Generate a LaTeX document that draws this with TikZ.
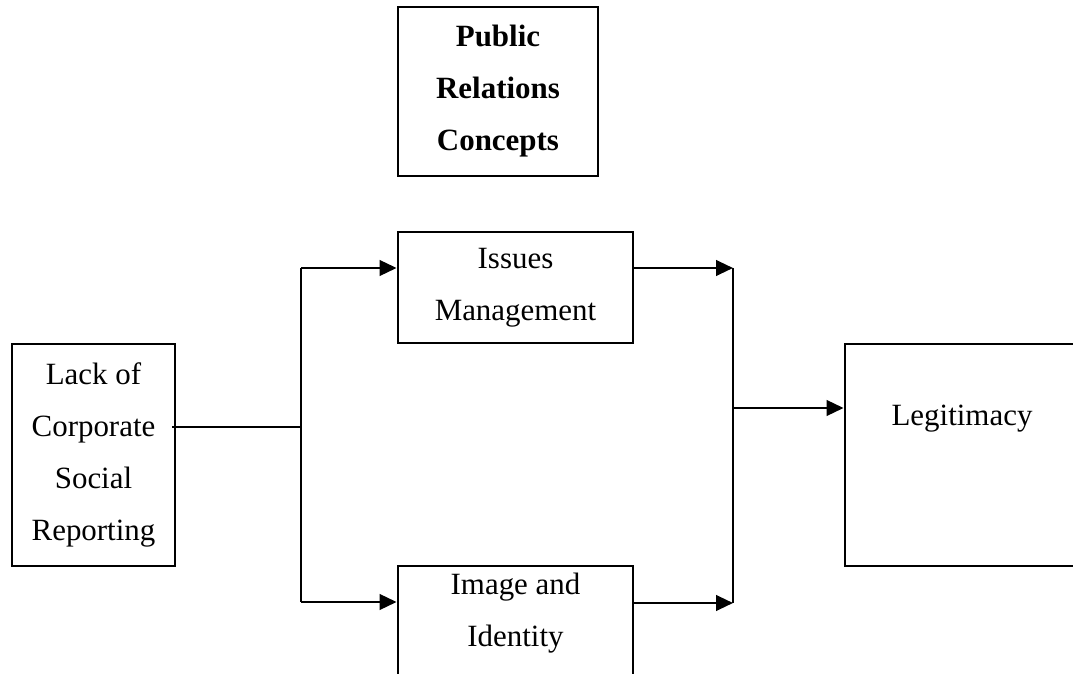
\documentclass[tikz,border=0pt]{standalone}
\usepackage{fontspec}
\setmainfont{Liberation Serif}
\usetikzlibrary{arrows.meta}
\begin{document}
\begin{tikzpicture}[x=0.025cm, y=-0.025cm,
        box/.style={draw, rectangle, line width=2pt, align=center, inner sep=0pt},
        conn/.style={line width=1.7pt},
        arr/.style={line width=1.7pt, -{Triangle[length=12pt, width=11pt]}},
        font=\fontsize{22}{37}\selectfont]
        \useasboundingbox (0,0) rectangle (1073,674);
        % concept boxes
        \node[box, minimum width=5cm, minimum height=4.225cm, font=\bfseries\fontsize{22}{37}\selectfont] (pr) at (498,91.5) {Public\\Relations\\Concepts};
        \node[box, minimum width=4.075cm, minimum height=5.55cm] (lack) at (93.5,455) {Lack of\\Corporate\\Social\\Reporting};
        \node[box, minimum width=5.875cm, minimum height=2.775cm] (issues) at (515.5,287.5) {Issues\\Management};
        \node[box, minimum width=5.875cm, minimum height=3.75cm] (image) at (515.5,641) {};
        \node[align=center] (imagetext) at (515.5,613) {Image and\\Identity};
        \node[box, minimum width=6.375cm, minimum height=5.55cm] (legit) at (972.5,455) {};
        \node (legittext) at (962,419) {Legitimacy};

        % split and join points
        \coordinate (split) at (301,427);
        \coordinate (splittop) at (301,268);
        \coordinate (splitbot) at (301,602);
        \coordinate (jointop) at (733,268);
        \coordinate (joinbot) at (733,603);
        \coordinate (joinmid) at (733,408);

        \draw[conn] ([xshift=-3pt]lack.east |- split) -- (split);
        \draw[conn] (splittop) -- (splitbot);
        \draw[arr] (splittop) -- (splittop -| issues.west);
        \draw[arr] (splitbot) -- (splitbot -| image.west);

        \draw[arr] (issues.east |- jointop) -- (jointop);
        \draw[arr] (image.east |- joinbot) -- (joinbot);
        \draw[conn] (jointop) -- (joinbot);
        \draw[arr] (joinmid) -- (joinmid -| legit.west);
    \end{tikzpicture}
\end{document}
